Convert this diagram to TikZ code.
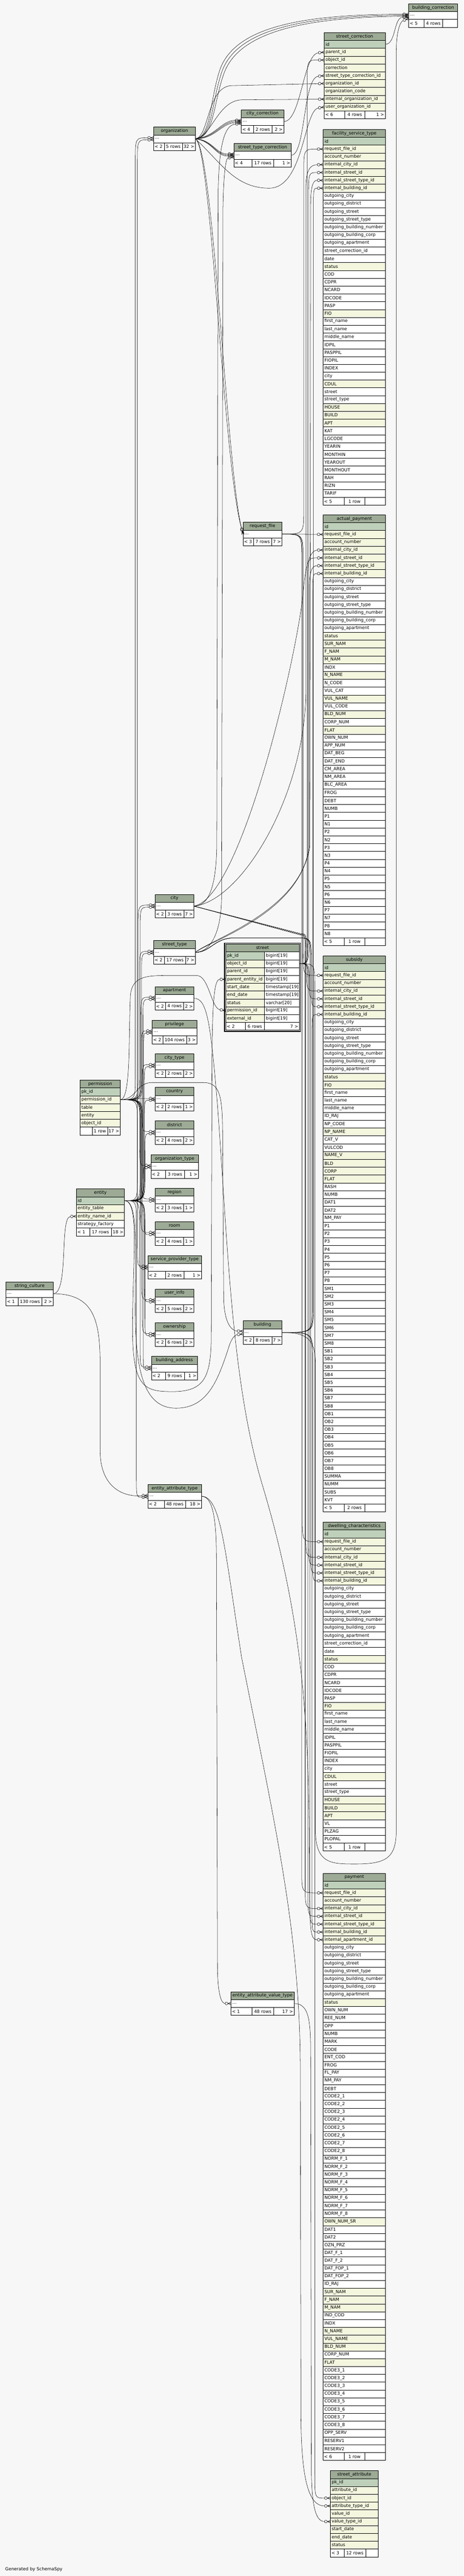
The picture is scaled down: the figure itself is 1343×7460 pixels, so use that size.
\documentclass[tikz,border=0pt]{standalone}
\usepackage{fontspec}
\setmainfont{DejaVu Sans}
\usetikzlibrary{calc}
\definecolor{cH}{RGB}{157,171,150}
\definecolor{cP}{RGB}{190,208,186}
\definecolor{cY}{RGB}{244,247,222}
\definecolor{cW}{RGB}{255,255,255}
\definecolor{cB}{RGB}{247,247,247}
\pgfdeclarearrow{
  name = crowo,
  setup code = {
    \pgfarrowssettipend{0pt}
    \pgfarrowssetbackend{-17pt}
    \pgfarrowssetlineend{-17pt}
  },
  drawing code = {
    \pgfpathcircle{\pgfqpoint{-13pt}{0pt}}{4pt}
    \pgfpathmoveto{\pgfqpoint{-9pt}{0pt}}
    \pgfpathlineto{\pgfqpoint{0pt}{0pt}}
    \pgfpathmoveto{\pgfqpoint{-9pt}{0pt}}
    \pgfpathlineto{\pgfqpoint{0pt}{3.5pt}}
    \pgfpathmoveto{\pgfqpoint{-9pt}{0pt}}
    \pgfpathlineto{\pgfqpoint{0pt}{-3.5pt}}
    \pgfusepathqstroke
  }
}
\def\rh{22.67}
\tikzset{
  tnode/.style={draw=black, line width=0.8pt, inner ysep=0pt, inner xsep=4pt, outer sep=0pt, minimum height=\rh pt, font=\fontsize{12.7}{15}\selectfont},
  hdr/.style={tnode, fill=cH},
  cell/.style={tnode, align=left},
  fbox/.style={draw=black, line width=0.8pt, fill=cW, inner sep=0pt, outer sep=0pt, minimum height=\rh pt},
  ftxt/.style={inner sep=0pt, font=\fontsize{12.7}{15}\selectfont},
  fk/.style={draw=black, line width=0.8pt, -crowo},
}
\newcommand\tbl[6]{%
  \pgfmathsetmacro\tw{#4-8}%
  \xdef\tX{#2}\xdef\tY{#3}\xdef\tW{#4}\xdef\tN{#1}%
  \node[hdr, minimum width=#4pt, anchor=north west] (#1) at (#2,#3) {#5};
  \foreach \rt/\rs [count=\ri] in {#6} {%
    \node[cell, fill=c\rs, minimum width=#4pt, text width=\tw pt, anchor=north west] (#1-\ri) at (#2,{#3+\ri*\rh}) {\rt};
    \xdef\tR{\ri}%
  }%
}
\newcommand\ftr[5]{%
  \pgfmathsetmacro\fy{\tY+(\tR+1)*\rh}%
  \pgfmathsetmacro\wa{#1-\tX}%
  \pgfmathsetmacro\wb{#2-#1}%
  \pgfmathsetmacro\wc{\tX+\tW-#2}%
  \node[fbox, minimum width=\wa pt, anchor=north west] (\tN-fa) at (\tX,\fy) {};
  \node[fbox, minimum width=\wb pt, anchor=north west] (\tN-fb) at (#1,\fy) {};
  \node[fbox, minimum width=\wc pt, anchor=north west] (\tN-fc) at (#2,\fy) {};
  \node[ftxt, anchor=west] (\tN-ta) at ([xshift=3pt]\tN-fa.west) {#3};
  \node[ftxt] (\tN-tb) at (\tN-fb.center) {#4};
  \node[ftxt, anchor=east] (\tN-tc) at ([xshift=-3pt]\tN-fc.east) {#5};
}
\newcommand\chanedge[4]{%
  \draw[fk] let \p1=#2, \p2=#3, \n1={ifthenelse(\y2<\y1,-1,1)*min(abs(\y2-\y1)/2,70)} in
    #1 .. controls (#4pt,\y1) and (#4pt,\y1) .. (#4pt,{\y1+\n1}) -- (#4pt,{\y2-\n1}) .. controls (#4pt,\y2) and (#4pt,\y2) .. #3;}
\newcommand\fanedge[3]{\chanedge{(#1.east)}{(#1.east)}{(#2.west)}{#3}}
\begin{document}
\begin{tikzpicture}[x=1pt,y=-1pt]
\fill[cB] (0,0) rectangle (1343,7460);
\useasboundingbox (0,0) rectangle (1343,7460);

% ---------- tables ----------
\tbl{bc}{1184}{11}{142}{building\_correction}{\ldots/W}
\ftr{1229}{1282}{< 5}{4 rows}{}
\tbl{sc}{939}{94.5}{177}{street\_correction}{id/P,parent\_id/Y,object\_id/Y,correction/Y,street\_type\_correction\_id/Y,organization\_id/Y,organization\_code/Y,internal\_organization\_id/Y,user\_organization\_id/Y}
\ftr{999}{1057}{< 6}{4 rows}{1 >}
\tbl{org}{445}{368}{121}{organization}{\ldots/W}
\ftr{476}{528}{< 2}{5 rows}{32 >}
\tbl{cityc}{699}{318}{123}{city\_correction}{\ldots/W}
\ftr{735}{788}{< 4}{2 rows}{2 >}
\tbl{stc}{677.5}{415.5}{166.5}{street\_type\_correction}{\ldots/W}
\ftr{730}{793}{< 4}{17 rows}{1 >}
\tbl{fst}{936}{375}{181}{facility\_service\_type}{id/P,request\_file\_id/Y,account\_number/Y,internal\_city\_id/Y,internal\_street\_id/Y,internal\_street\_type\_id/Y,internal\_building\_id/Y,outgoing\_city/W,outgoing\_district/W,outgoing\_street/W,outgoing\_street\_type/W,outgoing\_building\_number/W,outgoing\_building\_corp/W,outgoing\_apartment/W,street\_correction\_id/W,date/W,status/Y,COD/W,CDPR/W,NCARD/W,IDCODE/W,PASP/W,FIO/Y,first\_name/W,last\_name/W,middle\_name/W,IDPIL/W,PASPPIL/W,FIOPIL/W,INDEX/W,city/W,CDUL/Y,street/W,street\_type/W,HOUSE/Y,BUILD/Y,APT/Y,KAT/W,LGCODE/W,YEARIN/W,MONTHIN/W,YEAROUT/W,MONTHOUT/W,RAH/W,RIZN/W,TARIF/W}
\ftr{997}{1057}{< 5}{1 row}{}
\tbl{rf}{704}{1512.5}{113}{request\_file}{\ldots/W}
\ftr{735}{787}{< 3}{7 rows}{7 >}
\tbl{ap}{936}{1491}{181}{actual\_payment}{id/P,request\_file\_id/Y,account\_number/Y,internal\_city\_id/Y,internal\_street\_id/Y,internal\_street\_type\_id/Y,internal\_building\_id/Y,outgoing\_city/W,outgoing\_district/W,outgoing\_street/W,outgoing\_street\_type/W,outgoing\_building\_number/W,outgoing\_building\_corp/W,outgoing\_apartment/W,status/Y,SUR\_NAM/Y,F\_NAM/Y,M\_NAM/Y,INDX/W,N\_NAME/Y,N\_CODE/W,VUL\_CAT/W,VUL\_NAME/Y,VUL\_CODE/W,BLD\_NUM/Y,CORP\_NUM/W,FLAT/Y,OWN\_NUM/W,APP\_NUM/W,DAT\_BEG/W,DAT\_END/W,CM\_AREA/W,NM\_AREA/W,BLC\_AREA/W,FROG/W,DEBT/W,NUMB/W,P1/W,N1/W,P2/W,N2/W,P3/W,N3/W,P4/W,N4/W,P5/W,N5/W,P6/W,N6/W,P7/W,N7/W,P8/W,N8/W}
\ftr{997}{1057}{< 5}{1 row}{}
\tbl{city}{449}{2590}{113}{city}{\ldots/W}
\ftr{479}{533}{< 2}{3 rows}{7 >}
\tbl{stype}{445}{2724}{121}{street\_type}{\ldots/W}
\ftr{476}{538}{< 2}{17 rows}{7 >}
\tbl{apt}{449}{2857}{113}{apartment}{\ldots/W}
\ftr{480}{532}{< 2}{4 rows}{2 >}
\tbl{priv}{441}{2954.5}{129}{privilege}{\ldots/W}
\ftr{472}{540}{< 2}{104 rows}{3 >}
\tbl{ctype}{449}{3052}{113}{city\_type}{\ldots/W}
\ftr{480}{532}{< 2}{2 rows}{2 >}
\tbl{country}{449}{3149}{113}{country}{\ldots/W}
\ftr{480}{532}{< 2}{2 rows}{1 >}
\tbl{district}{449}{3246}{113}{district}{\ldots/W}
\ftr{480}{532}{< 2}{4 rows}{2 >}
\tbl{otype}{437}{3344}{138}{organization\_type}{\ldots/W}
\ftr{480}{534}{< 2}{3 rows}{1 >}
\tbl{region}{449}{3441}{113}{region}{\ldots/W}
\ftr{480}{532}{< 2}{3 rows}{1 >}
\tbl{room}{449}{3538}{113}{room}{\ldots/W}
\ftr{480}{532}{< 2}{4 rows}{1 >}
\tbl{spt}{428}{3636}{156}{service\_provider\_type}{\ldots/W}
\ftr{479}{533}{< 2}{2 rows}{1 >}
\tbl{uinfo}{449}{3733}{113}{user\_info}{\ldots/W}
\ftr{480}{532}{< 2}{5 rows}{2 >}
\tbl{own}{449}{3831}{113}{ownership}{\ldots/W}
\ftr{480}{532}{< 2}{6 rows}{2 >}
\tbl{baddr}{438.5}{3928}{133.5}{building\_address}{\ldots/W}
\ftr{479}{534}{< 2}{9 rows}{1 >}
\tbl{perm}{232}{3128}{116.6}{permission}{pk\_id/P,permission\_id/Y,table/Y,entity/Y,object\_id/Y}
\ftr{267}{312}{}{1 row}{17 >}
\tbl{entity}{221}{3443}{139.6}{entity}{id/P,entity\_table/Y,entity\_name\_id/Y,strategy\_factory/W}
\ftr{260}{322}{< 1}{17 rows}{18 >}
\tbl{sculture}{17}{3712.5}{137}{string\_culture}{\ldots/W}
\ftr{52}{121.6}{< 1}{130 rows}{2 >}
\tbl{building}{704}{3825}{113}{building}{\ldots/W}
\ftr{735}{788}{< 2}{8 rows}{7 >}
\tbl{sub}{936}{2768}{181}{subsidy}{id/P,request\_file\_id/Y,account\_number/Y,internal\_city\_id/Y,internal\_street\_id/Y,internal\_street\_type\_id/Y,internal\_building\_id/Y,outgoing\_city/W,outgoing\_district/W,outgoing\_street/W,outgoing\_street\_type/W,outgoing\_building\_number/W,outgoing\_building\_corp/W,outgoing\_apartment/W,status/Y,FIO/Y,first\_name/W,last\_name/W,middle\_name/W,ID\_RAJ/W,NP\_CODE/W,NP\_NAME/Y,CAT\_V/W,VULCOD/W,NAME\_V/Y,BLD/Y,CORP/Y,FLAT/Y,RASH/W,NUMB/W,DAT1/W,DAT2/W,NM\_PAY/W,P1/W,P2/W,P3/W,P4/W,P5/W,P6/W,P7/W,P8/W,SM1/W,SM2/W,SM3/W,SM4/W,SM5/W,SM6/W,SM7/W,SM8/W,SB1/W,SB2/W,SB3/W,SB4/W,SB5/W,SB6/W,SB7/W,SB8/W,OB1/W,OB2/W,OB3/W,OB4/W,OB5/W,OB6/W,OB7/W,OB8/W,SUMMA/W,NUMM/W,SUBS/W,KVT/W}
\ftr{997}{1057}{< 5}{2 rows}{}
\tbl{eat}{428}{4299}{156}{entity\_attribute\_type}{\ldots/W}
\ftr{476}{537}{< 2}{48 rows}{18 >}
\tbl{dwc}{936}{4408}{181}{dwelling\_characteristics}{id/P,request\_file\_id/Y,account\_number/Y,internal\_city\_id/Y,internal\_street\_id/Y,internal\_street\_type\_id/Y,internal\_building\_id/Y,outgoing\_city/W,outgoing\_district/W,outgoing\_street/W,outgoing\_street\_type/W,outgoing\_building\_number/W,outgoing\_building\_corp/W,outgoing\_apartment/W,street\_correction\_id/W,date/W,status/Y,COD/W,CDPR/W,NCARD/W,IDCODE/W,PASP/W,FIO/Y,first\_name/W,last\_name/W,middle\_name/W,IDPIL/W,PASPPIL/W,FIOPIL/W,INDEX/W,city/W,CDUL/Y,street/W,street\_type/W,HOUSE/Y,BUILD/Y,APT/Y,VL/W,PLZAG/W,PLOPAL/W}
\ftr{997}{1057}{< 5}{1 row}{}
\tbl{pay}{936}{5425}{181}{payment}{id/P,request\_file\_id/Y,account\_number/Y,internal\_city\_id/Y,internal\_street\_id/Y,internal\_street\_type\_id/Y,internal\_building\_id/Y,internal\_apartment\_id/Y,outgoing\_city/W,outgoing\_district/W,outgoing\_street/W,outgoing\_street\_type/W,outgoing\_building\_number/W,outgoing\_building\_corp/W,outgoing\_apartment/W,status/Y,OWN\_NUM/W,REE\_NUM/W,OPP/W,NUMB/W,MARK/W,CODE/W,ENT\_COD/W,FROG/W,FL\_PAY/W,NM\_PAY/W,DEBT/W,CODE2\_1/W,CODE2\_2/W,CODE2\_3/W,CODE2\_4/W,CODE2\_5/W,CODE2\_6/W,CODE2\_7/W,CODE2\_8/W,NORM\_F\_1/W,NORM\_F\_2/W,NORM\_F\_3/W,NORM\_F\_4/W,NORM\_F\_5/W,NORM\_F\_6/W,NORM\_F\_7/W,NORM\_F\_8/W,OWN\_NUM\_SR/Y,DAT1/W,DAT2/W,OZN\_PRZ/W,DAT\_F\_1/W,DAT\_F\_2/W,DAT\_FOP\_1/W,DAT\_FOP\_2/W,ID\_RAJ/W,SUR\_NAM/Y,F\_NAM/Y,M\_NAM/Y,IND\_COD/W,INDX/W,N\_NAME/Y,VUL\_NAME/Y,BLD\_NUM/Y,CORP\_NUM/W,FLAT/Y,CODE3\_1/W,CODE3\_2/W,CODE3\_3/W,CODE3\_4/W,CODE3\_5/W,CODE3\_6/W,CODE3\_7/W,CODE3\_8/W,OPP\_SERV/W,RESERV1/W,RESERV2/W}
\ftr{997}{1057}{< 6}{1 row}{}
\tbl{eavt}{669}{5768}{183}{entity\_attribute\_value\_type}{\ldots/W}
\ftr{730.6}{792}{< 1}{48 rows}{17 >}
\tbl{sa}{957}{7155}{139}{street\_attribute}{pk\_id/P,attribute\_id/Y,object\_id/Y,attribute\_type\_id/Y,value\_id/Y,value\_type\_id/Y,start\_date/Y,end\_date/Y,status/Y}
\ftr{997}{1059}{< 3}{12 rows}{}

% street (two columns, double frame)
\gdef\tX{654}\gdef\tY{2734}\gdef\tW{213}\gdef\tN{street}
\draw[line width=1.8pt] (650.5,2730.5) rectangle (870.5,2987);
\node[hdr, minimum width=213pt, anchor=north west] (street) at (654,2734) {street};
\foreach \rt/\ry/\rs [count=\ri] in {pk\_id/bigint[19]/P,object\_id/bigint[19]/Y,parent\_id/bigint[19]/Y,parent\_entity\_id/bigint[19]/Y,start\_date/timestamp[19]/Y,end\_date/timestamp[19]/Y,status/varchar[20]/Y,permission\_id/bigint[19]/Y,external\_id/bigint[19]/Y} {%
  \node[cell, fill=c\rs, minimum width=112.4pt, text width=104.4pt, anchor=north west] (street-\ri) at (654,{2734+\ri*\rh}) {\rt};
  \node[cell, fill=cW, minimum width=100.6pt, text width=92.6pt, anchor=north west] (street-t\ri) at (766.4,{2734+\ri*\rh}) {\ry};
  \xdef\tR{\ri}%
}
\ftr{710.4}{766.4}{< 2}{6 rows}{7 >}

\node[ftxt, anchor=west] (gen) at (15,7440) {Generated by SchemaSpy};

% ---------- connectors ----------
% organization children
\draw[fk] (org-1.east) .. controls (612,396) and (606,300) .. (636,205) .. controls (680,70) and (900,42) .. ([yshift=4pt]bc-1.west);
\draw[fk] (org-1.east) .. controls (616,398) and (612,300) .. (642,210) .. controls (686,78) and (900,46) .. ([yshift=1pt]bc-1.west);
\draw[fk] (org-1.east) .. controls (620,400) and (618,300) .. (648,215) .. controls (692,86) and (900,50) .. ([yshift=-2pt]bc-1.west);
\draw[fk] (sc-1.east) .. controls (1148,128) and (1140,50) .. ([yshift=-5pt]bc-1.west);
\draw[fk] (building-1.east) .. controls (880,3859) and (914,3870) .. (914,3950) -- (914,5300) .. controls (914,5398) and (960,5398) .. (1030,5398) .. controls (1120,5398) and (1148,5380) .. (1148,5300) -- (1148,150) .. controls (1148,90) and (1160,62) .. ([yshift=-9pt]bc-1.west);
\draw[fk] (org-1.east) .. controls (625,396) and (640,349) .. ([yshift=4pt]cityc-1.west);
\draw[fk] (org-1.east) .. controls (625,399) and (640,353) .. ([yshift=1pt]cityc-1.west);
\draw[fk] (org-1.east) .. controls (625,402) and (640,357) .. ([yshift=-2pt]cityc-1.west);
\draw[fk] (city-1.east) .. controls (600,2624) and (626,2580) .. (628,2450) -- (632,560) .. controls (634,420) and (650,362) .. ([yshift=-6pt]cityc-1.west);
\draw[fk] (org-1.east) .. controls (615,404) and (625,447) .. ([yshift=4pt]stc-1.west);
\draw[fk] (org-1.east) .. controls (615,406) and (625,450) .. ([yshift=1pt]stc-1.west);
\draw[fk] (org-1.east) .. controls (615,408) and (625,453) .. ([yshift=-2pt]stc-1.west);
\draw[fk] (stype-1.east) .. controls (600,2758) and (640,2720) .. (642,2600) -- (646,600) .. controls (648,495) and (655,458) .. ([yshift=-6pt]stc-1.west);
\draw[fk] (org-1.east) .. controls (606,396) and (600,252) .. (670,248) -- (sc-6.west);
\draw[fk] (org-1.east) .. controls (612,398) and (630,292) .. (700,289) -- (sc-8.west);
\draw[fk] (org-1.east) .. controls (640,470) and (680,545) .. (780,545) .. controls (880,545) and (880,320) .. (sc-9.west);
\draw[fk] (cityc-1.east) .. controls (872,353) and (878,158) .. (sc-2.west);
\draw[fk] (stc-1.east) .. controls (885,450) and (878,225) .. (sc-5.west);
\draw[fk] (org-1.east) .. controls (612,420) and (648,1350) .. ([yshift=2pt]rf-1.west);
\draw[fk] (org-1.east) .. controls (618,420) and (656,1350) .. ([yshift=-1pt]rf-1.west);

% request_file children
\chanedge{(rf-1.east)}{(rf-1.east)}{(fst-2.west)}{880}
\draw[fk] (rf-1.east) -- (ap-2.west);
\chanedge{(rf-1.east)}{(rf-1.east)}{(sub-2.west)}{878}
\chanedge{(rf-1.east)}{(rf-1.east)}{(dwc-2.west)}{876}
\chanedge{(rf-1.east)}{(rf-1.east)}{(pay-2.west)}{874}
% city children
\draw[fk] (city-1.east) .. controls (700,2610) and (886,2300) .. (886,2000) -- (886,547) .. controls (886,490) and (900,477) .. (fst-4.west);
\draw[fk] (city-1.east) .. controls (700,2600) and (860,1900) .. (878,1720) .. controls (885,1630) and (900,1593) .. (ap-4.west);
\chanedge{(city-1.east) -- (872,2704)}{(872,2704)}{(sub-4.west)}{888}
\chanedge{(city-1.east) -- (872,2706)}{(872,2706)}{(dwc-4.west)}{886}
\chanedge{(city-1.east) -- (872,2708)}{(872,2708)}{(pay-4.west)}{884}
% street children
\chanedge{(street-t2.east)}{(street-t2.east)}{(sc-3.west)}{890}
\chanedge{(street-t2.east)}{(street-t2.east)}{(fst-5.west)}{894}
\chanedge{(street-t2.east)}{(street-t2.east)}{(ap-5.west)}{892}
\chanedge{(street-t2.east)}{(street-t2.east)}{(sub-5.west)}{896}
\chanedge{(street-t2.east)}{(street-t2.east)}{(dwc-5.west)}{894}
\chanedge{(street-t2.east)}{(street-t2.east)}{(pay-5.west)}{892}
\chanedge{(street-t2.east)}{(street-t2.east)}{(sa-3.west)}{912}
% street_type children
\draw[fk] (stype-1.east) .. controls (610,2720) and (870,2640) .. (898,2450) -- (900,592) .. controls (900,530) and (910,522) .. (fst-6.west);
\draw[fk] (stype-1.east) .. controls (612,2722) and (872,2645) .. (896,2450) -- (896,1710) .. controls (896,1650) and (905,1638) .. (ap-6.west);
\chanedge{(stype-1.east) .. controls (610,2758) and (620,2716) .. (680,2716) -- (860,2716)}{(860,2716)}{(sub-6.west)}{902}
\chanedge{(stype-1.east) .. controls (610,2758) and (620,2716) .. (680,2716) -- (860,2716)}{(860,2716)}{(dwc-6.west)}{900}
\chanedge{(stype-1.east) .. controls (610,2758) and (620,2716) .. (680,2716) -- (860,2716)}{(860,2716)}{(pay-6.west)}{898}
% building children
\chanedge{(building-1.east)}{(building-1.east)}{(fst-7.west)}{908}
\chanedge{(building-1.east)}{(building-1.east)}{(ap-7.west)}{906}
\chanedge{(building-1.east)}{(building-1.east)}{(sub-7.west)}{904}
\chanedge{(building-1.east)}{(building-1.east)}{(dwc-7.west)}{906}
\chanedge{(building-1.east)}{(building-1.east)}{(pay-7.west)}{904}
% apartment child
\draw[fk] (apt-1.east) .. controls (600,2891) and (610,2960) .. (630,3200) .. controls (660,3600) and (670,4000) .. (760,4300) .. controls (880,4700) and (896,5000) .. (896,5400) .. controls (896,5600) and (900,5617) .. (pay-8.west);
% attribute types
\draw[fk] (eat-1.east) .. controls (612,4334) and (626,4380) .. (627,4500) -- (630,5700) .. controls (631,5770) and (640,5802) .. (eavt-1.west);
\draw[fk] (eat-1.east) .. controls (640,4334) and (650,4480) .. (700,4800) .. controls (800,5300) and (870,5600) .. (870,6000) -- (872,7000) .. controls (873,7200) and (900,7257) .. (sa-4.west);
\draw[fk] (eavt-1.east) .. controls (895,5802) and (900,5850) .. (900,5950) -- (902,7150) .. controls (903,7260) and (915,7302) .. (sa-6.west);
% string_culture
\draw[fk] (sculture-1.east) .. controls (200,3747) and (172,3524) .. (entity-3.west);
\draw[fk] (sculture-1.east) .. controls (270,3747) and (290,3820) .. (290,3950) -- (290,4200) .. controls (290,4310) and (360,4336) .. ([yshift=3pt]eat-1.west);
% permission fan
\fanedge{perm-2}{[yshift=3pt]org-1}{392}
\fanedge{perm-2}{[yshift=3pt]city-1}{400}
\fanedge{perm-2}{[yshift=3pt]stype-1}{404}
\fanedge{perm-2}{[yshift=3pt]apt-1}{408}
\fanedge{perm-2}{[yshift=3pt]priv-1}{410}
\fanedge{perm-2}{[yshift=3pt]ctype-1}{412}
\fanedge{perm-2}{[yshift=2pt]country-1}{400}
\fanedge{perm-2}{[yshift=3pt]district-1}{412}
\fanedge{perm-2}{[yshift=3pt]otype-1}{405}
\fanedge{perm-2}{[yshift=3pt]region-1}{410}
\fanedge{perm-2}{[yshift=3pt]room-1}{408}
\fanedge{perm-2}{[yshift=3pt]spt-1}{398}
\fanedge{perm-2}{[yshift=3pt]uinfo-1}{410}
\fanedge{perm-2}{[yshift=3pt]own-1}{412}
\fanedge{perm-2}{[yshift=3pt]baddr-1}{406}
\draw[fk] (perm-2.east) .. controls (395,3185) and (395,3135) .. (440,3135) -- (590,3135) .. controls (640,3135) and (645,3180) .. (645,3300) -- (648,3760) .. controls (650,3835) and (672,3854) .. ([yshift=4pt]building-1.west);
\draw[fk] (perm-2.east) .. controls (380,3185) and (372,3000) .. (378,2880) .. controls (384,2830) and (420,2825) .. (480,2825) -- (570,2825) .. controls (605,2825) and (612,2920) .. (street-8.west);
% entity fan
\fanedge{entity-1}{[yshift=-3pt]org-1}{398}
\fanedge{entity-1}{[yshift=-3pt]city-1}{406}
\fanedge{entity-1}{[yshift=-3pt]stype-1}{410}
\fanedge{entity-1}{[yshift=-3pt]apt-1}{414}
\fanedge{entity-1}{[yshift=-3pt]priv-1}{416}
\fanedge{entity-1}{[yshift=-3pt]ctype-1}{418}
\fanedge{entity-1}{[yshift=-3pt]country-1}{418}
\fanedge{entity-1}{[yshift=-3pt]district-1}{420}
\fanedge{entity-1}{[yshift=-3pt]otype-1}{415}
\fanedge{entity-1}{[yshift=-3pt]region-1}{405}
\fanedge{entity-1}{[yshift=-3pt]room-1}{418}
\fanedge{entity-1}{[yshift=-3pt]spt-1}{404}
\fanedge{entity-1}{[yshift=-3pt]uinfo-1}{418}
\fanedge{entity-1}{[yshift=-3pt]own-1}{420}
\fanedge{entity-1}{[yshift=-3pt]baddr-1}{415}
\fanedge{entity-1}{[yshift=-3pt]eat-1}{395}
\draw[fk] (entity-1.east) .. controls (400,3477) and (392,3600) .. (392,3800) .. controls (392,4000) and (430,4078) .. (510,4078) .. controls (600,4078) and (630,4000) .. (660,3910) .. controls (670,3875) and (680,3866) .. ([yshift=-4pt]building-1.west);
\draw[fk] (entity-1.east) .. controls (405,3477) and (384,3650) .. (384,3850) .. controls (384,4020) and (420,4030) .. (500,4030) .. controls (590,4030) and (610,3990) .. (612,3880) -- (614,3100) .. controls (615,2900) and (620,2836) .. (street-4.west);
\end{tikzpicture}
\end{document}
